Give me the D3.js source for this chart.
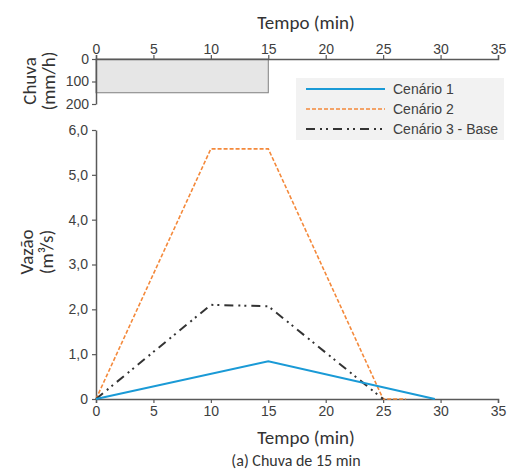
<!DOCTYPE html>
<html>
<head>
<meta charset="utf-8">
<script src="https://cdn.jsdelivr.net/npm/d3@7"></script>
<style>
  body { margin: 0; background: #fff; }
  svg text { font-family: "Liberation Sans", Arial, sans-serif; }
</style>
</head>
<body>
<svg id="vis" width="509" height="476"></svg>
<script>
// data
var timeTicks = [0, 5, 10, 15, 20, 25, 30, 35];
var rainTicks = [0, 100, 200];
var flowTicks = [0, 1, 2, 3, 4, 5, 6];
var rainStart = 0, rainEnd = 15, rainValue = 150;

var cen1 = [[0, 0], [15, 0.84], [29.5, 0]];
var cen2 = [[0, 0], [10, 5.58], [15, 5.58], [25, 0], [27, 0]];
var cen3 = [[0, 0], [10, 2.1], [15, 2.07], [25, 0]];
var seriesNames = ['Cenário 1', 'Cenário 2', 'Cenário 3 - Base'];

const AXIS_COLOUR = '#595959';
const TEXT_COLOUR = '#404040';
const TITLE_FONT = 'Carlito, "Open Sans", sans-serif';

var svg = d3.select('#vis');

var x = d3.scaleLinear().domain([0, 35]).range([96, 498]);
var yRain = d3.scaleLinear().domain([0, 200]).range([59, 104]);
var yFlow = d3.scaleLinear().domain([0, 6]).range([399, 130]);

function styleAxis(g) {
    g.select('.domain').attr('stroke', AXIS_COLOUR).attr('stroke-width', 1.5);
    g.selectAll('.tick line').attr('stroke', AXIS_COLOUR).attr('stroke-width', 1.2);
    g.selectAll('.tick text').attr('fill', TEXT_COLOUR)
        .style('font-size', '14px');
}

function title(sel, size) {
    return sel.style('font-family', TITLE_FONT).style('font-size', size + 'px')
        .attr('fill', '#333333');
}

// top chart: rainfall
svg.append('rect')
    .attr('x', x(rainStart)).attr('y', yRain(0))
    .attr('width', x(rainEnd) - x(rainStart))
    .attr('height', yRain(rainValue) - yRain(0))
    .attr('fill', '#e6e6e6').attr('stroke', '#7f7f7f').attr('stroke-width', 1);

svg.append('g').attr('transform', 'translate(0,' + yRain(0) + ')')
    .call(d3.axisTop(x).tickValues(timeTicks).tickSize(4).tickSizeOuter(4).tickPadding(1))
    .call(styleAxis);

svg.append('g').attr('transform', 'translate(' + x(0) + ',0)')
    .call(d3.axisLeft(yRain).tickValues(rainTicks).tickSize(4).tickSizeOuter(0).tickPadding(3))
    .call(styleAxis);

svg.append('text').attr('x', 306).attr('y', 29).attr('text-anchor', 'middle')
    .call(title, 19).text('Tempo (min)');

var rainLabel = svg.append('text').attr('transform', 'translate(36,81) rotate(-90)')
    .attr('text-anchor', 'middle').call(title, 19);
rainLabel.append('tspan').attr('x', 0).attr('dy', 0).text('Chuva');
rainLabel.append('tspan').attr('x', 0).attr('dy', 19).text('(mm/h)');

// bottom chart: flow
svg.append('g').attr('transform', 'translate(0,' + yFlow(0) + ')')
    .call(d3.axisBottom(x).tickValues(timeTicks).tickSize(4).tickSizeOuter(4).tickPadding(3))
    .call(styleAxis);

svg.append('g').attr('transform', 'translate(' + x(0) + ',0)')
    .call(d3.axisLeft(yFlow).tickValues(flowTicks).tickSize(4).tickSizeOuter(0).tickPadding(4)
        .tickFormat(function(d) { return d === 0 ? '0' : d3.format('.1f')(d).replace('.', ','); }))
    .call(styleAxis);

var line = d3.line().x(function(d) { return x(d[0]); }).y(function(d) { return yFlow(d[1]); });

svg.append('path').datum(cen2).attr('d', line).attr('fill', 'none')
    .attr('stroke', '#f4893b').attr('stroke-width', 1.6).attr('stroke-dasharray', '4,2');
svg.append('path').datum(cen3).attr('d', line).attr('fill', 'none')
    .attr('stroke', '#333333').attr('stroke-width', 2).attr('stroke-dasharray', '9,5,2,4,2,5');
svg.append('path').datum(cen1).attr('d', line).attr('fill', 'none')
    .attr('stroke', '#1a9ad6').attr('stroke-width', 2);

svg.append('text').attr('x', 306).attr('y', 444).attr('text-anchor', 'middle')
    .call(title, 19).text('Tempo (min)');

var flowLabel = svg.append('text').attr('transform', 'translate(33,252) rotate(-90)')
    .attr('text-anchor', 'middle').call(title, 19);
flowLabel.append('tspan').attr('x', 0).attr('dy', 0).text('Vazão');
flowLabel.append('tspan').attr('x', 0).attr('dy', 20).text('(m³/s)');

// legend
var legend = svg.append('g');
legend.append('rect').attr('x', 296).attr('y', 78).attr('width', 208).attr('height', 62)
    .attr('fill', '#f2f2f2');
var legendStyles = [
    {colour: '#1a9ad6', width: 2, dash: null},
    {colour: '#f4893b', width: 1.6, dash: '4,2'},
    {colour: '#333333', width: 2, dash: '9,5,2,4,2,5'}
];
seriesNames.forEach(function(name, i) {
    var ly = 89 + i * 20;
    var s = legendStyles[i];
    legend.append('line').attr('x1', 306).attr('x2', 385).attr('y1', ly).attr('y2', ly)
        .attr('stroke', s.colour).attr('stroke-width', s.width)
        .attr('stroke-dasharray', s.dash);
    legend.append('text').attr('x', 393).attr('y', ly + 5).attr('fill', TEXT_COLOUR)
        .style('font-size', '14px').text(name);
});

// caption
svg.append('text').attr('x', 296).attr('y', 466).attr('text-anchor', 'middle')
    .call(title, 16).text('(a) Chuva de 15 min');
</script>
</body>
</html>
